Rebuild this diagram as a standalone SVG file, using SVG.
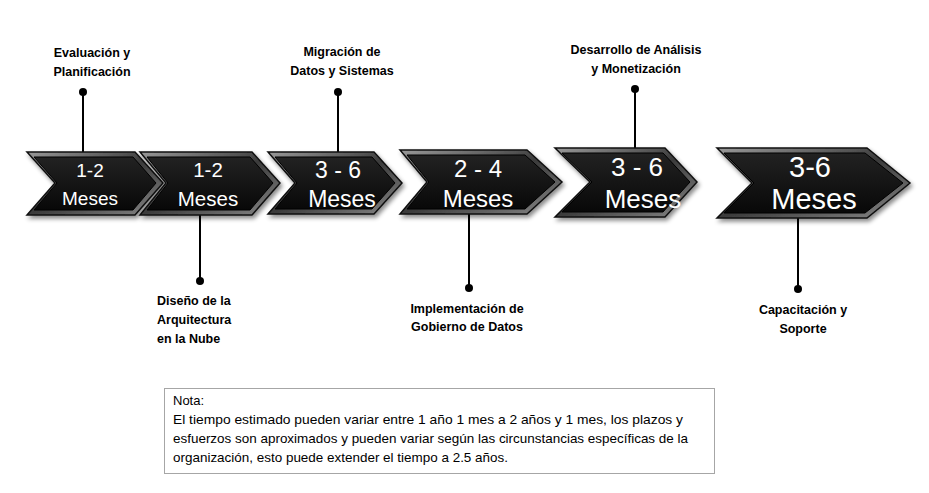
<svg xmlns="http://www.w3.org/2000/svg" width="929" height="493" viewBox="0 0 929 493">
<defs>
<linearGradient id="bev" x1="0" y1="0" x2="1" y2="1">
<stop offset="0" stop-color="#9a9a9a"/>
<stop offset="0.5" stop-color="#3a3a3a"/>
<stop offset="1" stop-color="#8a8a8a"/>
</linearGradient>
<linearGradient id="face" x1="0" y1="0" x2="0" y2="1">
<stop offset="0" stop-color="#222"/>
<stop offset="1" stop-color="#080808"/>
</linearGradient>
<filter id="sh" x="-10%" y="-10%" width="130%" height="140%">
<feDropShadow dx="2" dy="3" stdDeviation="2" flood-color="#000" flood-opacity="0.45"/>
</filter>
</defs>
<style>
.outer{fill:url(#bev);stroke:#111;stroke-width:1.5;filter:url(#sh)}
.inner{fill:url(#face);stroke:#000;stroke-width:1}
.ct{font-family:"Liberation Sans",Arial,sans-serif;fill:#fff;text-anchor:middle}
.lb{font-family:"Liberation Sans",Arial,sans-serif;font-weight:bold;font-size:12.5px;fill:#000;text-anchor:middle}
.ll{font-family:"Liberation Sans",Arial,sans-serif;font-weight:bold;font-size:12.5px;fill:#000;text-anchor:start}
.ln{stroke:#000;stroke-width:2}
.dot{fill:#000}
.nt{font-family:"Liberation Sans",Arial,sans-serif;font-size:13px;fill:#000}
</style>
<rect width="929" height="493" fill="#fff"/>

<g id="connectors">
<line class="ln" x1="83" y1="92" x2="83" y2="153"/><circle class="dot" cx="83" cy="92" r="4"/>
<line class="ln" x1="338" y1="92" x2="338" y2="153"/><circle class="dot" cx="338" cy="92" r="4"/>
<line class="ln" x1="635" y1="89" x2="635" y2="149"/><circle class="dot" cx="635" cy="89" r="4"/>
<line class="ln" x1="200" y1="213" x2="200" y2="281"/><circle class="dot" cx="200" cy="281" r="4"/>
<line class="ln" x1="469" y1="212" x2="469" y2="288"/><circle class="dot" cx="469" cy="288" r="4"/>
<line class="ln" x1="798" y1="216" x2="798" y2="289"/><circle class="dot" cx="798" cy="289" r="4"/>
</g>

<g id="c1">
<polygon class="outer" points="27,152 135,152 163,183 135,215 27,215 55,183"/>
<polygon class="inner" points="34,157 133,157 156,183 133,210 34,210 57,183"/>
<text class="ct" x="90" y="177" font-size="19">1-2</text>
<text class="ct" x="90" y="205" font-size="19">Meses</text>
</g>
<g id="c2">
<polygon class="outer" points="140,152 252,152 280,183 252,215 140,215 166,183"/>
<polygon class="inner" points="147,157 250,157 273,183 250,210 147,210 168,183"/>
<text class="ct" x="208" y="177" font-size="20.5">1-2</text>
<text class="ct" x="208" y="206" font-size="20.5">Meses</text>
</g>
<g id="c3">
<polygon class="outer" points="268,152 374,152 402,183 374,214 268,214 295,183"/>
<polygon class="inner" points="275,157 372,157 395,183 372,209 275,209 297,183"/>
<text class="ct" x="338" y="178" font-size="23">3 - 6</text>
<text class="ct" x="342" y="207" font-size="23">Meses</text>
</g>
<g id="c4">
<polygon class="outer" points="400,150 527,150 562,182 527,214 400,214 427,182"/>
<polygon class="inner" points="407,155 525,155 555,182 525,209 407,209 429,182"/>
<text class="ct" x="478" y="177" font-size="24">2 - 4</text>
<text class="ct" x="478" y="207" font-size="24">Meses</text>
</g>
<g id="c5">
<polygon class="outer" points="555,148 665,148 697,182 665,217 555,217 590,182"/>
<polygon class="inner" points="562,153 663,153 690,182 663,212 562,212 592,182"/>
<text class="ct" x="637" y="176" font-size="26">3 - 6</text>
<text class="ct" x="643" y="208" font-size="26">Meses</text>
</g>
<g id="c6">
<polygon class="outer" points="717,148 867,148 910,183 867,218 717,218 752,183"/>
<polygon class="inner" points="724,153 865,153 903,183 865,213 724,213 754,183"/>
<text class="ct" x="810" y="177" font-size="29">3-6</text>
<text class="ct" x="814" y="209" font-size="29">Meses</text>
</g>

<g id="l1"><text class="lb" x="92" y="57">Evaluación y</text><text class="lb" x="92" y="76">Planificación</text></g>
<g id="l2"><text class="ll" x="157" y="305">Diseño de la</text><text class="ll" x="157" y="324">Arquitectura</text><text class="ll" x="157" y="343">en la Nube</text></g>
<g id="l3"><text class="lb" x="342" y="56">Migración de</text><text class="lb" x="342" y="75">Datos y Sistemas</text></g>
<g id="l4"><text class="lb" x="467" y="313">Implementación de</text><text class="lb" x="467" y="331">Gobierno de Datos</text></g>
<g id="l5"><text class="lb" x="636" y="54">Desarrollo de Análisis</text><text class="lb" x="636" y="73">y Monetización</text></g>
<g id="l6"><text class="lb" x="803" y="314">Capacitación y</text><text class="lb" x="803" y="333">Soporte</text></g>

<g id="note">
<rect x="164.5" y="388.5" width="550" height="85" fill="#fff" stroke="#a6a6a6" stroke-width="1"/>
<text class="nt" x="173" y="405">Nota:</text>
<text class="nt" x="173" y="424" textLength="510" lengthAdjust="spacingAndGlyphs">El tiempo estimado pueden variar entre 1 año 1 mes a 2 años y 1 mes, los plazos y</text>
<text class="nt" x="173" y="443" textLength="515" lengthAdjust="spacingAndGlyphs">esfuerzos son aproximados y pueden variar según las circunstancias específicas de la</text>
<text class="nt" x="173" y="462" textLength="335" lengthAdjust="spacingAndGlyphs">organización, esto puede extender el tiempo a 2.5 años.</text>
</g>
</svg>
